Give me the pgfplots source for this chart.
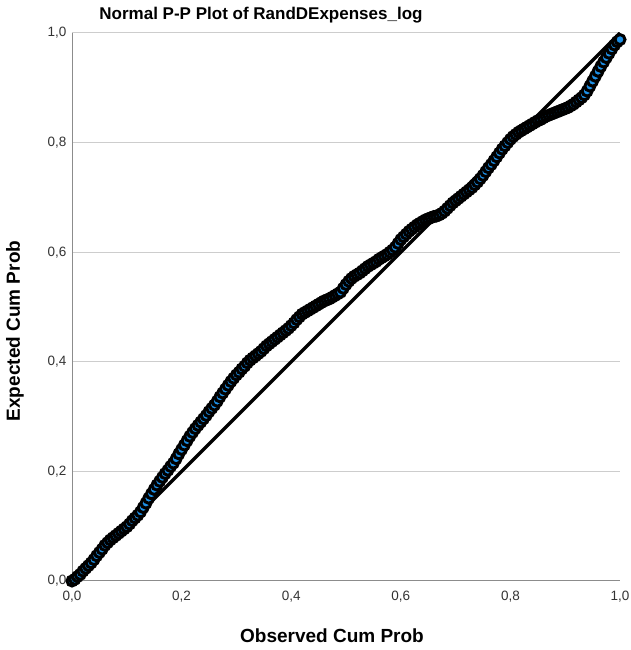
\documentclass[border=0pt]{standalone}
\usepackage{fontspec}
\setmainfont{Liberation Sans}
\usepackage{pgfplots}
\pgfplotsset{compat=1.18}
\definecolor{ptblue}{RGB}{30,144,230}
\definecolor{gridgray}{RGB}{205,205,205}
\definecolor{axgray}{RGB}{140,140,140}
\begin{document}
\begin{tikzpicture}[x=1pt,y=1pt]
\useasboundingbox (0,0) rectangle (630,650);
\begin{axis}[
  at={(72pt,69pt)}, anchor=origin,
  scale only axis, width=548pt, height=548pt,
  xmin=0, xmax=1, ymin=0, ymax=1,
  axis x line*=bottom, axis y line*=left,
  axis line style={axgray, line width=1pt, -},
  xtick={0,0.2,0.4,0.6,0.8,1}, ytick={0,0.2,0.4,0.6,0.8,1},
  major tick length=0pt,
  ymajorgrids, grid style={gridgray, line width=1pt},
  /pgf/number format/.cd, use comma, fixed, fixed zerofill, precision=1, assume math mode=true,
  /pgfplots/.cd,
  ticklabel style={font=\fontsize{13.5}{15}\selectfont, text=black!80},
  xticklabel style={yshift=-7pt},
  yticklabel style={xshift=-2pt},
]
\addplot[only marks, mark=*, mark size=5pt, mark options={draw=black, fill=ptblue, line width=3pt}] coordinates {
(0.000,0.000)(0.005,0.003)(0.010,0.008)(0.015,0.012)(0.020,0.018)(0.025,0.023)(0.030,0.028)(0.035,0.033)(0.040,0.039)(0.045,0.046)
(0.050,0.052)(0.055,0.058)(0.060,0.065)(0.065,0.070)(0.070,0.075)(0.075,0.079)(0.080,0.083)(0.085,0.087)(0.090,0.091)(0.095,0.095)
(0.100,0.099)(0.105,0.104)(0.110,0.110)(0.115,0.115)(0.120,0.120)(0.125,0.126)(0.130,0.134)(0.135,0.142)(0.140,0.151)(0.145,0.159)
(0.150,0.167)(0.155,0.175)(0.160,0.182)(0.165,0.189)(0.170,0.196)(0.175,0.202)(0.180,0.209)(0.185,0.215)(0.190,0.223)(0.195,0.232)
(0.200,0.240)(0.205,0.248)(0.210,0.256)(0.215,0.264)(0.220,0.271)(0.225,0.278)(0.230,0.284)(0.235,0.290)(0.240,0.296)(0.245,0.302)
(0.250,0.309)(0.255,0.315)(0.260,0.321)(0.265,0.328)(0.270,0.336)(0.275,0.343)(0.280,0.350)(0.285,0.357)(0.290,0.364)(0.295,0.370)
(0.300,0.376)(0.305,0.381)(0.310,0.387)(0.315,0.392)(0.320,0.398)(0.325,0.403)(0.330,0.407)(0.335,0.411)(0.340,0.415)(0.345,0.419)
(0.350,0.424)(0.355,0.429)(0.360,0.433)(0.365,0.437)(0.370,0.441)(0.375,0.445)(0.380,0.449)(0.385,0.453)(0.390,0.457)(0.395,0.461)
(0.400,0.466)(0.405,0.471)(0.410,0.477)(0.415,0.482)(0.420,0.487)(0.425,0.490)(0.430,0.493)(0.435,0.496)(0.440,0.499)(0.445,0.502)
(0.450,0.505)(0.455,0.508)(0.460,0.511)(0.465,0.513)(0.470,0.515)(0.475,0.518)(0.480,0.521)(0.485,0.524)(0.490,0.527)(0.495,0.534)
(0.500,0.541)(0.505,0.547)(0.510,0.552)(0.515,0.556)(0.520,0.559)(0.525,0.562)(0.530,0.566)(0.535,0.570)(0.540,0.574)(0.545,0.577)
(0.550,0.580)(0.555,0.583)(0.560,0.587)(0.565,0.590)(0.570,0.593)(0.575,0.596)(0.580,0.600)(0.585,0.604)(0.590,0.609)(0.595,0.616)
(0.600,0.623)(0.605,0.628)(0.610,0.633)(0.615,0.638)(0.620,0.642)(0.625,0.646)(0.630,0.650)(0.635,0.653)(0.640,0.656)(0.645,0.659)
(0.650,0.661)(0.655,0.663)(0.660,0.665)(0.665,0.666)(0.670,0.668)(0.675,0.671)(0.680,0.675)(0.685,0.680)(0.690,0.685)(0.695,0.690)
(0.700,0.694)(0.705,0.698)(0.710,0.702)(0.715,0.706)(0.720,0.710)(0.725,0.714)(0.730,0.718)(0.735,0.723)(0.740,0.728)(0.745,0.734)
(0.750,0.740)(0.755,0.747)(0.760,0.754)(0.765,0.760)(0.770,0.767)(0.775,0.774)(0.780,0.781)(0.785,0.788)(0.790,0.794)(0.795,0.800)
(0.800,0.806)(0.805,0.811)(0.810,0.815)(0.815,0.819)(0.820,0.822)(0.825,0.825)(0.830,0.828)(0.835,0.831)(0.840,0.834)(0.845,0.837)
(0.850,0.840)(0.855,0.842)(0.860,0.845)(0.865,0.848)(0.870,0.850)(0.875,0.852)(0.880,0.854)(0.885,0.856)(0.890,0.858)(0.895,0.860)
(0.900,0.862)(0.905,0.864)(0.910,0.867)(0.915,0.870)(0.920,0.874)(0.925,0.878)(0.930,0.882)(0.935,0.887)(0.940,0.894)(0.945,0.903)
(0.950,0.912)(0.955,0.921)(0.960,0.930)(0.965,0.939)(0.970,0.947)(0.975,0.955)(0.980,0.963)(0.985,0.971)(0.990,0.978)(0.995,0.984)
(1.000,0.988)
};
\addplot[black, line width=3.5pt] coordinates {(0,0) (1,1)};
\end{axis}
\node[font=\fontsize{17}{20}\selectfont\bfseries] at (261,635) {Normal P-P Plot of RandDExpenses\_log};
\node[font=\fontsize{19}{22}\selectfont\bfseries] at (332,14) {Observed Cum Prob};
\node[font=\fontsize{19}{22}\selectfont\bfseries, rotate=90] at (15,319) {Expected Cum Prob};
\end{tikzpicture}
\end{document}
